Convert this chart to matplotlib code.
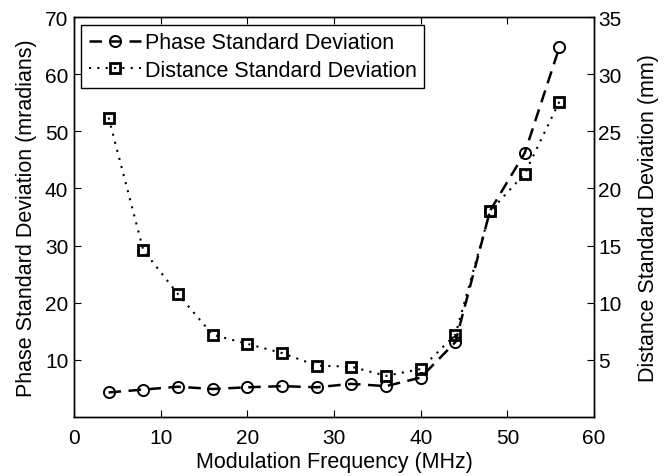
import matplotlib
matplotlib.use("Agg")
import matplotlib.pyplot as plt
from matplotlib.lines import Line2D

plt.rcParams['font.family'] = ['Liberation Sans', 'DejaVu Sans']

freq = [4, 8, 12, 16, 20, 24, 28, 32, 36, 40, 44, 48, 52, 56]
phase_std = [4.3, 4.8, 5.3, 4.9, 5.2, 5.4, 5.2, 5.8, 5.4, 6.9, 13.1, 36.1, 46.2, 64.7]
dist_std = [26.2, 14.6, 10.75, 7.2, 6.4, 5.6, 4.5, 4.4, 3.6, 4.2, 7.2, 18.0, 21.3, 27.6]

xticks = [0, 10, 20, 30, 40, 50, 60]
left_ticks = [10, 20, 30, 40, 50, 60, 70]
right_ticks = [5, 10, 15, 20, 25, 30, 35]

fig = plt.figure(figsize=(6.66, 4.77), dpi=100)
ax = fig.add_axes([0.111, 0.1237, 0.781, 0.8385])
ax2 = ax.twinx()

dash = (0, (5, 3))
dot = (0, (1, 3))
c_kw = dict(marker='o', markersize=8, markerfacecolor='none', markeredgewidth=1.4)
s_kw = dict(marker='s', markersize=7, markerfacecolor='none', markeredgewidth=2)

ax.plot(freq, phase_std, linestyle=dash, color='black', lw=1.8, **c_kw)
ax2.plot(freq, dist_std, linestyle=dot, color='black', lw=1.5, **s_kw)

ax.set_xlim(0, 60)
ax.set_ylim(0, 70)
ax2.set_ylim(0, 35)
ax.set_xticks(xticks)
ax.set_yticks(left_ticks)
ax2.set_yticks(right_ticks)

tfs = 15
lfs = 15.5
ax.tick_params(axis='both', direction='in', length=5, labelsize=tfs, top=True, pad=4)
ax.tick_params(axis='x', pad=8)
ax2.tick_params(axis='y', direction='in', length=5, labelsize=tfs, pad=3)
ax.set_xlabel('Modulation Frequency (MHz)', fontsize=lfs, labelpad=3)
ax.set_ylabel('Phase Standard Deviation (mradians)', fontsize=lfs, labelpad=6)
ax2.set_ylabel('Distance Standard Deviation (mm)', fontsize=lfs, labelpad=12)

for a in (ax, ax2):
    for s in a.spines.values():
        s.set_linewidth(1.0)

h1 = Line2D([], [], linestyle=dash, color='black', lw=1.8, **c_kw)
h2 = Line2D([], [], linestyle=dot, color='black', lw=1.5, **s_kw)
leg = ax.legend([h1, h2], ['Phase Standard Deviation', 'Distance Standard Deviation'],
                loc='upper left', fontsize=lfs, frameon=True, fancybox=False,
                edgecolor='black', framealpha=1, borderpad=0.35, handlelength=2.4,
                handletextpad=0.2, labelspacing=0.3, borderaxespad=0.35)
leg.get_frame().set_linewidth(1.0)

fig.savefig('out.png', dpi=100)
